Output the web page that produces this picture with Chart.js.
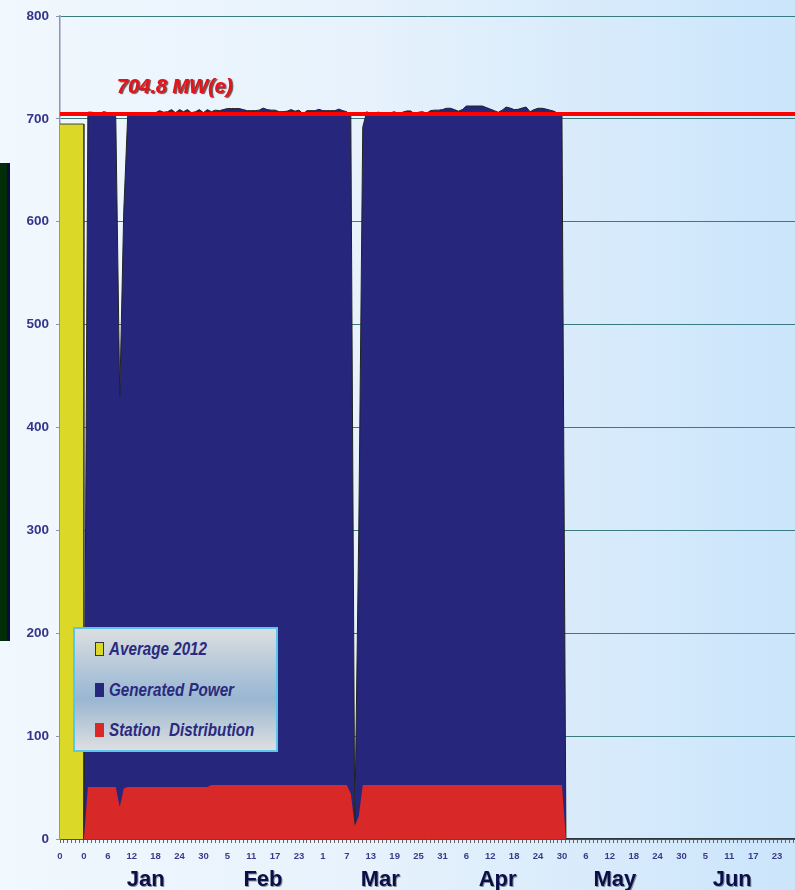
<!DOCTYPE html>
<html>
<head>
<meta charset="utf-8">
<script src="https://cdn.jsdelivr.net/npm/chart.js@4.4.1/dist/chart.umd.min.js"></script>
<style>
html,body{margin:0;padding:0;}
body{width:795px;height:890px;overflow:hidden;position:relative;
  background:linear-gradient(to right,#f1f8fe 0%,#e7f2fc 45%,#cbe5fb 100%);}
#wrap{position:absolute;left:0;top:0;width:795px;height:890px;}
#side{position:absolute;left:0;top:163px;width:7px;height:478px;background:#012d08;border-right:3px solid #0c0c40;}
#legend{position:absolute;left:73px;top:627px;width:205px;height:125px;box-sizing:border-box;border:2px solid #5cc6ea;
  background:linear-gradient(to bottom,#dcdee0 0%,#a9c1d7 42%,#9ab6d1 58%,#dddfe1 100%);}
.item{position:absolute;left:0;height:24px;width:200px;font:italic bold 19px "Liberation Sans",Arial,sans-serif;color:#2a2a7e;white-space:pre;}
.sw{position:absolute;left:20px;top:5px;width:9px;height:14px;box-sizing:border-box;}
.tx{position:absolute;left:34px;top:0;line-height:24px;transform:scaleX(0.8);transform-origin:0 50%;}
</style>
</head>
<body>
<div id="side"></div>
<div id="wrap"><canvas id="power" width="795" height="890"></canvas></div>
<div id="legend"></div>
<script>
(function(){
	'use strict';

	// Average 2012 block (value), and the 704.8 reference level
	var average2012 = 695;
	var refLevel = 704.8;

	// daily values, index = day of year (0 = 31 Dec, 1 = 1 Jan ...)
	var generated = [
		0, 706.5, 706.5, 705.5, 705.5, 707, 706, 706, 702, 430,
		610, 703.5, 703.5, 703.5, 704, 704.5, 704.5, 706, 706, 708,
		706.5, 707, 709, 706, 709, 707, 709, 706, 707, 709,
		706, 709, 707, 708.5, 708, 709, 710, 710, 710, 710,
		709, 708, 708, 708, 708.5, 710.5, 709, 708.5, 708.5, 707,
		707, 707.5, 709, 707.5, 708.5, 705, 708, 708, 708, 709.3,
		708, 708, 708, 708, 709.5, 708, 707, 703, 12, 300,
		692, 707, 704.4, 706, 706.5, 705.5, 705.5, 706, 707, 704.4,
		706.5, 707.7, 707.7, 705, 706.5, 707, 705.5, 708, 708.5, 708.5,
		709, 710.3, 710.3, 709, 707.5, 709, 712.5, 712.5, 712.5, 712.5,
		712.5, 711, 709.5, 708, 706.4, 708.5, 711.5, 710.5, 709, 709.3,
		710.5, 711.5, 707, 709, 710.3, 710.3, 709.5, 708.5, 707.5, 705.4,
		705, 0
	];

	var station = [
		0, 50.5, 50.5, 50.5, 50.5, 50.5, 50.5, 50.5, 50.5, 31,
		49, 50.5, 50.5, 50.5, 50.5, 50.5, 50.5, 50.5, 50.5, 50.5,
		50.5, 50.5, 50.5, 50.5, 50.5, 50.5, 50.5, 50.5, 50.5, 50.5,
		50.5, 50.5, 52.5, 52.5, 52.5, 52.5, 52.5, 52.5, 52.5, 52.5,
		52.5, 52.5, 52.5, 52.5, 52.5, 52.5, 52.5, 52.5, 52.5, 52.5,
		52.5, 52.5, 52.5, 52.5, 52.5, 52.5, 52.5, 52.5, 52.5, 52.5,
		52.5, 52.5, 52.5, 52.5, 52.5, 52.5, 52.5, 44, 13, 22,
		52.5, 52.5, 52.5, 52.5, 52.5, 52.5, 52.5, 52.5, 52.5, 52.5,
		52.5, 52.5, 52.5, 52.5, 52.5, 52.5, 52.5, 52.5, 52.5, 52.5,
		52.5, 52.5, 52.5, 52.5, 52.5, 52.5, 52.5, 52.5, 52.5, 52.5,
		52.5, 52.5, 52.5, 52.5, 52.5, 52.5, 52.5, 52.5, 52.5, 52.5,
		52.5, 52.5, 52.5, 52.5, 52.5, 52.5, 52.5, 52.5, 52.5, 52.5,
		52.5, 0
	];

	// labels under every 6th day tick, first one is the "Average" column
	var dayLabels = ['0','0','6','12','18','24','30','5','11','17','23','1','7','13','19','25','31',
		'6','12','18','24','30','6','12','18','24','30','5','11','17','23'];
	var monthNames = ['Jan','Feb','Mar','Apr','May','Jun'];
	var seriesNames = ['Average 2012','Generated Power','Station  Distribution'];

	var xMin = -6, xMax = 178.5;
	var sans = '"Liberation Sans",Arial,sans-serif';

	function pts(arr){
		return arr.map(function(v,i){ return {x:i, y:v}; });
	}

	var extras = {
		id:'extras',
		afterDraw:function(chart){
			var ctx = chart.ctx, x = chart.scales.x, y = chart.scales.y;
			ctx.save();
			ctx.font = 'italic bold 20px ' + sans;
			ctx.fillStyle = '#e8121a';
			ctx.shadowColor = 'rgba(70,20,20,0.75)';
			ctx.shadowOffsetX = 1.5; ctx.shadowOffsetY = 1.5; ctx.shadowBlur = 1;
			ctx.fillText(refLevel.toFixed(1) + ' MW(e)', x.getPixelForValue(8.25), y.getPixelForValue(refLevel) - 21);

			ctx.font = 'bold 22px ' + sans;
			ctx.fillStyle = '#0c0e4a';
			ctx.textAlign = 'center';
			ctx.shadowColor = 'rgba(0,0,0,0.4)';
			ctx.shadowOffsetX = 1; ctx.shadowOffsetY = 1; ctx.shadowBlur = 0;
			monthNames.forEach(function(m,i){
				ctx.fillText(m, x.getPixelForValue(15.5 + i*29.45), 886);
			});
			ctx.restore();
		}
	};

	var chart = new Chart(document.getElementById('power'),{
		type:'line',
		data:{
			datasets:[
				{
					label:seriesNames[0],
					data:[{x:xMin,y:average2012},{x:0,y:average2012},{x:0,y:0}],
					backgroundColor:'#dbd827',
					borderColor:'#444',
					borderWidth:1,
					fill:'origin',
					order:3
				},
				{
					label:seriesNames[1],
					data:pts(generated),
					backgroundColor:'#26267c',
					borderColor:'#222',
					borderWidth:1,
					fill:'origin',
					order:2
				},
				{
					label:seriesNames[2],
					data:pts(station),
					backgroundColor:'#d92828',
					borderColor:'rgba(0,0,0,0)',
					borderWidth:0,
					fill:'origin',
					order:1
				},
				{
					label:'ref',
					data:[{x:xMin,y:refLevel},{x:xMax,y:refLevel}],
					borderColor:'#ff0000',
					borderWidth:4,
					fill:false,
					order:0
				}
			]
		},
		options:{
			responsive:false,
			animation:false,
			devicePixelRatio:1,
			layout:{padding:{top:16,right:0,left:0,bottom:0}},
			elements:{point:{radius:0},line:{tension:0}},
			plugins:{legend:{display:false},tooltip:{enabled:false}},
			scales:{
				x:{
					type:'linear',
					min:xMin,
					max:xMax,
					afterBuildTicks:function(scale){
						var t = [];
						for(var d = xMin; d <= 178; d++){ t.push({value:d}); }
						scale.ticks = t;
					},
					afterFit:function(scale){
						scale.height = 51;
						scale.paddingLeft = 0;
						scale.paddingRight = 0;
					},
					ticks:{
						autoSkip:false,
						maxRotation:0,
						minRotation:0,
						padding:8,
						color:'#3b3b8c',
						font:{family:sans,size:9.5,weight:'bold'},
						callback:function(v){
							var k = v - xMin;
							return (k % 6 === 0) ? dayLabels[k/6] : '';
						}
					},
					grid:{drawOnChartArea:false,tickLength:4,color:'#666',lineWidth:1},
					border:{color:'#333',width:1.5}
				},
				y:{
					min:0,
					max:800,
					afterFit:function(scale){ scale.width = 60; },
					ticks:{
						stepSize:100,
						padding:7,
						color:'#34348a',
						font:{family:sans,size:13.5,weight:'bold'}
					},
					grid:{color:'#3b7b80',lineWidth:1,tickLength:4,tickColor:'#8f90c0'},
					border:{color:'#8f90c0',width:1.5}
				}
			}
		},
		plugins:[extras]
	});

	// legend box
	var legend = document.getElementById('legend');
	chart.data.datasets.slice(0,3).forEach(function(ds,i){
		var item = document.createElement('div');
		item.className = 'item';
		item.style.top = (8 + i*40.5) + 'px';
		var sw = document.createElement('div');
		sw.className = 'sw';
		sw.style.background = ds.backgroundColor;
		if(i === 0){ sw.style.border = '1px solid #333'; }
		var tx = document.createElement('div');
		tx.className = 'tx';
		tx.textContent = ds.label;
		item.appendChild(sw);
		item.appendChild(tx);
		legend.appendChild(item);
	});
})();
</script>
</body>
</html>
